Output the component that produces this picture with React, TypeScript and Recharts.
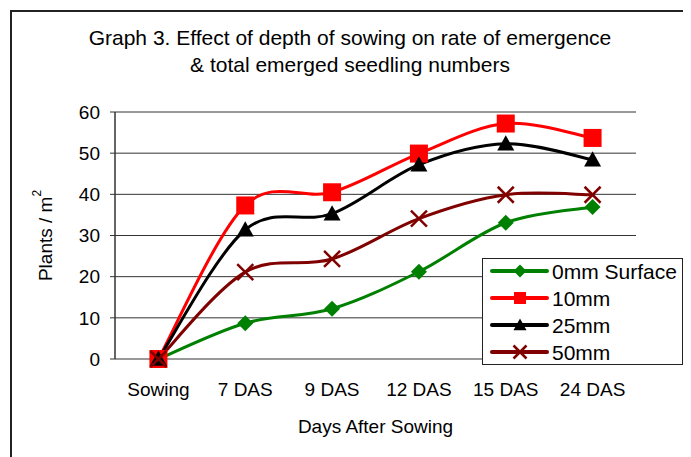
import React from 'react';
import { LineChart, Line, XAxis, YAxis, CartesianGrid } from 'recharts';

const categories = ['Sowing', '7 DAS', '9 DAS', '12 DAS', '15 DAS', '24 DAS'];
const surface0 = [0, 8.7, 12.2, 21.2, 33.1, 36.9];
const depth10 = [0, 37.3, 40.5, 49.9, 57.2, 53.7];
const depth25 = [0, 31.4, 35.3, 47.2, 52.3, 48.4];
const depth50 = [0, 21.1, 24.3, 34.1, 39.9, 39.9];
const yTicks = [0, 10, 20, 30, 40, 50, 60];

const FONT = '"Liberation Sans", Arial, sans-serif';

const data = categories.map((c, i) => ({
  x: i,
  name: c,
  s0: surface0[i],
  d10: depth10[i],
  d25: depth25[i],
  d50: depth50[i],
}));

const centerTicks = categories.map((_, i) => i);
const boundaryTicks = [...categories.map((_, i) => i - 0.5), categories.length - 0.5];

// Excel style smoothing (Catmull-Rom as cubic beziers)
function excelCurve(context: any) {
  let pts: [number, number][] = [];
  return {
    areaStart() {},
    areaEnd() {},
    lineStart() {
      pts = [];
    },
    point(x: number, y: number) {
      pts.push([+x, +y]);
    },
    lineEnd() {
      if (!pts.length) return;
      context.moveTo(pts[0][0], pts[0][1]);
      const t = 1 / 6;
      for (let i = 0; i < pts.length - 1; i++) {
        const p0 = pts[Math.max(i - 1, 0)];
        const p1 = pts[i];
        const p2 = pts[i + 1];
        const p3 = pts[Math.min(i + 2, pts.length - 1)];
        context.bezierCurveTo(
          p1[0] + (p2[0] - p0[0]) * t,
          p1[1] + (p2[1] - p0[1]) * t,
          p2[0] - (p3[0] - p1[0]) * t,
          p2[1] - (p3[1] - p1[1]) * t,
          p2[0],
          p2[1]
        );
      }
    },
  };
}

type Shape = 'diamond' | 'square' | 'triangle' | 'cross';

function Marker({ shape, cx, cy, size, color }: { shape: Shape; cx: number; cy: number; size: number; color: string }) {
  const h = size / 2;
  if (shape === 'diamond') {
    return <polygon points={`${cx},${cy - h} ${cx + h},${cy} ${cx},${cy + h} ${cx - h},${cy}`} fill={color} />;
  }
  if (shape === 'square') {
    return <rect x={cx - h} y={cy - h} width={size} height={size} fill={color} />;
  }
  if (shape === 'triangle') {
    return <polygon points={`${cx},${cy - h} ${cx + h},${cy + h * 0.8} ${cx - h},${cy + h * 0.8}`} fill={color} />;
  }
  return (
    <g stroke={color} strokeWidth={2.5}>
      <line x1={cx - h} y1={cy - h} x2={cx + h} y2={cy + h} />
      <line x1={cx - h} y1={cy + h} x2={cx + h} y2={cy - h} />
    </g>
  );
}

const series: { key: string; name: string; color: string; shape: Shape; size: number; legendSize: number }[] = [
  { key: 's0', name: '0mm Surface', color: '#008000', shape: 'diamond', size: 16, legendSize: 13 },
  { key: 'd10', name: '10mm', color: '#ff0000', shape: 'square', size: 18, legendSize: 12 },
  { key: 'd25', name: '25mm', color: '#000000', shape: 'triangle', size: 17, legendSize: 13 },
  { key: 'd50', name: '50mm', color: '#800000', shape: 'cross', size: 16, legendSize: 13 },
];

const LegendBox = () => (
  <div
    style={{
      position: 'absolute',
      left: 474,
      top: 250,
      width: 201,
      height: 107,
      border: '1px solid #222',
      boxSizing: 'border-box',
      background: '#fff',
    }}
  >
    <svg width={199} height={105} style={{ display: 'block' }}>
      {series.map((s, i) => {
        const y = 12 + i * 27;
        return (
          <g key={s.key}>
            <line x1={9} x2={64} y1={y} y2={y} stroke={s.color} strokeWidth={4} strokeLinecap="round" />
            <Marker shape={s.shape} cx={37} cy={y} size={s.legendSize} color={s.color} />
            <text x={69} y={y} dy="0.36em" fontSize={21} fontFamily={FONT} fill="#000">
              {s.name}
            </text>
          </g>
        );
      })}
    </svg>
  </div>
);

const YLabel = (props: any) => {
  const vb = props.viewBox || {};
  const cx = 37;
  const cy = vb.y + vb.height / 2;
  return (
    <text
      x={cx}
      y={cy}
      transform={`rotate(-90 ${cx} ${cy})`}
      textAnchor="middle"
      dominantBaseline="central"
      fontSize={19}
      fontFamily={FONT}
      fill="#000"
    >
      Plants / m<tspan dy={-8} fontSize={12}>2</tspan>
    </text>
  );
};

const XLabel = (props: any) => {
  const vb = props.viewBox || {};
  return (
    <text
      x={vb.x + vb.width / 2}
      y={vb.y + 74}
      textAnchor="middle"
      fontSize={19}
      fontFamily={FONT}
      fill="#000"
    >
      Days After Sowing
    </text>
  );
};

export default function App() {
  return (
    <div style={{ position: 'relative', width: 683, height: 449, overflow: 'hidden', fontFamily: FONT }}>
      <div
        style={{
          position: 'absolute',
          left: 2,
          top: 2,
          width: 900,
          height: 900,
          borderLeft: '2px solid #222',
          borderTop: '2px solid #222',
        }}
      />
      <div
        style={{
          position: 'absolute',
          left: 0,
          width: 684,
          top: 16,
          textAlign: 'center',
          fontSize: 21,
          lineHeight: '27px',
          color: '#000',
        }}
      >
        <div>Graph 3. Effect of depth of sowing on rate of emergence</div>
        <div>&amp; total emerged seedling numbers</div>
      </div>
      <div style={{ position: 'absolute', left: 0, top: 0 }}>
        <LineChart width={683} height={449} data={data} margin={{ top: 104, right: 55, bottom: 28, left: 0 }}>
          <CartesianGrid horizontal vertical={false} stroke="#333" strokeWidth={1} yAxisId="left" xAxisId="marks" />
          <XAxis
            xAxisId="marks"
            dataKey="x"
            type="number"
            domain={[-0.5, categories.length - 0.5]}
            ticks={boundaryTicks}
            interval={0}
            tick={false}
            height={0}
            tickSize={6}
            axisLine={{ stroke: '#444', strokeWidth: 2 }}
            tickLine={{ stroke: '#444', strokeWidth: 1.5 }}
          />
          <XAxis
            xAxisId="main"
            dataKey="x"
            type="number"
            domain={[-0.5, categories.length - 0.5]}
            ticks={centerTicks}
            tickFormatter={(v: number) => categories[v] ?? ''}
            interval={0}
            height={70}
            axisLine={false}
            tickLine={false}
            tickSize={0}
            tickMargin={24}
            tick={{ fontSize: 19, fill: '#000', fontFamily: FONT }}
            label={<XLabel />}
          />
          <XAxis
            xAxisId="top"
            orientation="top"
            dataKey="x"
            type="number"
            domain={[-0.5, categories.length - 0.5]}
            tick={false}
            tickLine={false}
            height={0}
            axisLine={{ stroke: '#888', strokeWidth: 2 }}
          />
          <YAxis
            yAxisId="left"
            domain={[0, 60]}
            ticks={yTicks}
            interval={0}
            width={107}
            tickSize={5}
            tickMargin={10}
            axisLine={{ stroke: '#333', strokeWidth: 1.5 }}
            tickLine={{ stroke: '#333', strokeWidth: 1 }}
            tick={{ fontSize: 19, fill: '#000', fontFamily: FONT }}
            label={<YLabel />}
          />
          <YAxis
            yAxisId="right"
            orientation="right"
            domain={[0, 60]}
            width={0}
            tick={false}
            tickLine={false}
            axisLine={{ stroke: '#888', strokeWidth: 2 }}
          />
          {series.map((s) => (
            <Line
              key={s.key}
              xAxisId="main"
              yAxisId="left"
              dataKey={s.key}
              name={s.name}
              type={excelCurve as any}
              stroke={s.color}
              strokeWidth={3}
              isAnimationActive={false}
              dot={(p: any) => (
                <Marker key={`${s.key}-${p.index}`} shape={s.shape} cx={p.cx} cy={p.cy} size={s.size} color={s.color} />
              )}
              activeDot={false}
            />
          ))}
        </LineChart>
      </div>
      <LegendBox />
    </div>
  );
}
